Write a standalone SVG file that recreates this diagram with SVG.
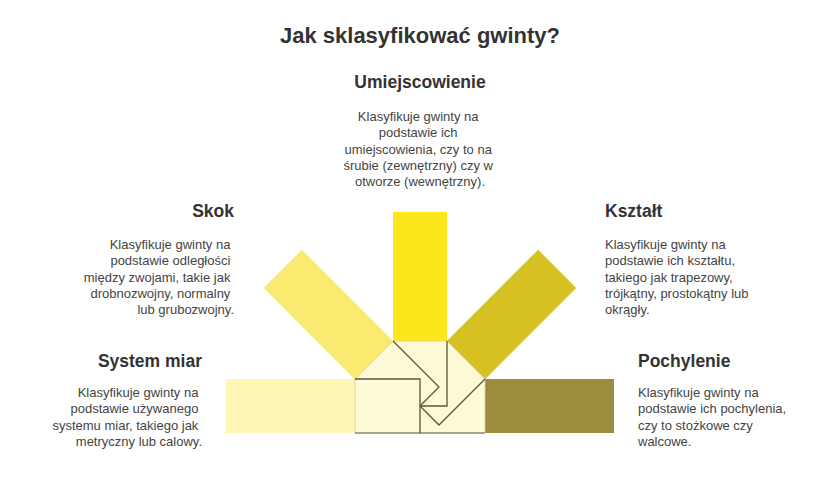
<svg xmlns="http://www.w3.org/2000/svg" width="840" height="480" viewBox="0 0 840 480">
<style>
.title{font-family:"Liberation Sans",Arial,sans-serif;font-weight:bold;font-size:22px;fill:#333333}
.head{font-family:"Liberation Sans",Arial,sans-serif;font-weight:bold;font-size:17.5px;fill:#333333}
.desc{font-family:"Liberation Sans",Arial,sans-serif;font-size:13px;fill:#444444}
.ray{stroke:none}
.line{fill:none;stroke:#5c5530;stroke-width:1.3;stroke-linejoin:miter}
</style>
<rect width="840" height="480" fill="#ffffff"/>
<text class="title" x="420" y="43" text-anchor="middle">Jak sklasyfikować gwinty?</text>

<g id="rays">
  <rect id="ray-system" class="ray" x="393" y="212" width="54" height="129" fill="#fef6b4" transform="rotate(-90 420 406)"/>
  <rect id="ray-skok" class="ray" x="393" y="212" width="54" height="129" fill="#fbea70" transform="rotate(-45 420 406)"/>
  <rect id="ray-umiejscowienie" class="ray" x="393" y="212" width="54" height="129" fill="#fde619"/>
  <rect id="ray-ksztalt" class="ray" x="393" y="212" width="54" height="129" fill="#d6c323" transform="rotate(45 420 406)"/>
  <rect id="ray-pochylenie" class="ray" x="393" y="212" width="54" height="129" fill="#9b8c3e" transform="rotate(90 420 406)"/>
</g>

<g id="hub">
  <polygon points="393,341 447,341 485,379 485,433 355,433 355,379" fill="#fefad8" stroke="#d8cf95" stroke-width="0.8"/>
  <line x1="355" y1="433" x2="485" y2="433" stroke="#948d76" stroke-width="1.3"/>
</g>

<g id="connectors">
  <polyline class="line" points="393,341 439,387 420,406"/>
  <polyline class="line" points="447,341 447,406 420,406"/>
  <polyline class="line" points="355,379 420,379 420,433"/>
  <polyline class="line" points="485,379 439,425 420,406"/>
</g>

<g id="node-umiejscowienie">
  <text class="head" x="420" y="88" text-anchor="middle">Umiejscowienie</text>
  <text class="desc" text-anchor="middle">
    <tspan x="420" y="121">Klasyfikuje gwinty na</tspan>
    <tspan x="420" y="137.25">podstawie ich</tspan>
    <tspan x="420" y="153.5">umiejscowienia, czy to na</tspan>
    <tspan x="420" y="169.75">śrubie (zewnętrzny) czy w</tspan>
    <tspan x="420" y="186">otworze (wewnętrzny).</tspan>
  </text>
</g>

<g id="node-skok">
  <text class="head" x="234" y="217" text-anchor="end">Skok</text>
  <text class="desc" text-anchor="end">
    <tspan x="234" y="249">Klasyfikuje gwinty na</tspan>
    <tspan x="234" y="265.25">podstawie odległości</tspan>
    <tspan x="234" y="281.5">między zwojami, takie jak</tspan>
    <tspan x="234" y="297.75">drobnozwojny, normalny</tspan>
    <tspan x="234" y="314">lub grubozwojny.</tspan>
  </text>
</g>

<g id="node-ksztalt">
  <text class="head" x="605" y="217">Kształt</text>
  <text class="desc">
    <tspan x="605" y="249">Klasyfikuje gwinty na</tspan>
    <tspan x="605" y="265.25">podstawie ich kształtu,</tspan>
    <tspan x="605" y="281.5">takiego jak trapezowy,</tspan>
    <tspan x="605" y="297.75">trójkątny, prostokątny lub</tspan>
    <tspan x="605" y="314">okrągły.</tspan>
  </text>
</g>

<g id="node-system">
  <text class="head" x="202" y="367" text-anchor="end">System miar</text>
  <text class="desc" text-anchor="end">
    <tspan x="202" y="397">Klasyfikuje gwinty na</tspan>
    <tspan x="202" y="413.25">podstawie używanego</tspan>
    <tspan x="202" y="429.5">systemu miar, takiego jak</tspan>
    <tspan x="202" y="445.75">metryczny lub calowy.</tspan>
  </text>
</g>

<g id="node-pochylenie">
  <text class="head" x="638" y="367">Pochylenie</text>
  <text class="desc">
    <tspan x="638" y="397">Klasyfikuje gwinty na</tspan>
    <tspan x="638" y="413.25">podstawie ich pochylenia,</tspan>
    <tspan x="638" y="429.5">czy to stożkowe czy</tspan>
    <tspan x="638" y="445.75">walcowe.</tspan>
  </text>
</g>
</svg>
